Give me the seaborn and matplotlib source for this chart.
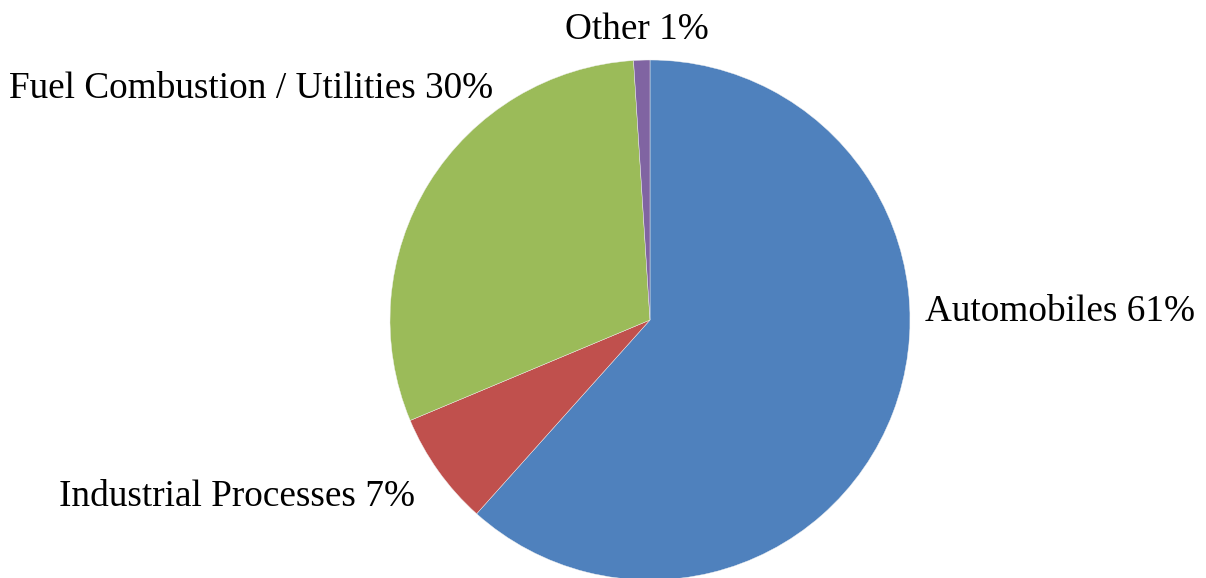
import matplotlib
matplotlib.use("Agg")
import matplotlib.pyplot as plt
import seaborn as sns

sns.set_theme(style="white")
plt.rcParams["font.family"] = ["Liberation Serif", "DejaVu Serif"]

# Sources of emissions (percent share)
categories = ["Automobiles", "Industrial Processes", "Fuel Combustion / Utilities", "Other"]
shares = [61, 7, 30, 1]
colors = ["#4F81BD", "#C0504D", "#9BBB59", "#8064A2"]

W, H = 1206, 578
fig = plt.figure(figsize=(W / 100, H / 100), dpi=100)
ax = fig.add_axes([0, 0, 1, 1])

center = (650, H - 320)
radius = 260
ax.pie(shares, colors=colors, startangle=90, counterclock=False,
       center=center, radius=radius, frame=True,
       wedgeprops=dict(linewidth=0.3, edgecolor="#f0f0f0"))
ax.set_xlim(0, W)
ax.set_ylim(0, H)
ax.set_aspect("equal")
ax.axis("off")

# Label placement: (x, y, horizontal alignment)
label_pos = [
    (925, H - 312, "left"),
    (415, H - 497, "right"),
    (493, H - 89, "right"),
    (637, H - 30, "center"),
]
for name, val, (x, y, ha) in zip(categories, shares, label_pos):
    ax.text(x, y, f"{name} {val}%", ha=ha, va="center", fontsize=26.8, color="black")

fig.savefig("out.png", dpi=100)
